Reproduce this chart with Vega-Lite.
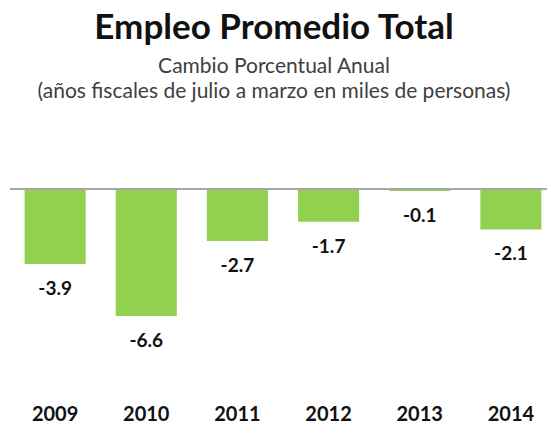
{
  "$schema": "https://vega.github.io/schema/vega-lite/v6.json",
  "autosize": {"type": "none"},
  "width": 546,
  "height": 206,
  "padding": {"left": 10, "top": 189, "right": 0, "bottom": 30},
  "background": "white",
  "title": {
    "text": "Empleo Promedio Total",
    "subtitle": ["Cambio Porcentual Anual", "(años fiscales de julio a marzo en miles de personas)"],
    "anchor": "middle",
    "frame": "group",
    "dx": -9,
    "offset": 86,
    "font": "Lato",
    "fontSize": 35,
    "fontWeight": "bold",
    "color": "#111111",
    "subtitleFont": "Lato",
    "subtitleFontSize": 21,
    "subtitleColor": "#404040",
    "subtitleLineHeight": 25,
    "subtitlePadding": 10
  },
  "data": {
    "values": [
      {"year": "2009", "value": -3.9},
      {"year": "2010", "value": -6.6},
      {"year": "2011", "value": -2.7},
      {"year": "2012", "value": -1.7},
      {"year": "2013", "value": -0.1},
      {"year": "2014", "value": -2.1}
    ]
  },
  "encoding": {
    "x": {
      "field": "year",
      "type": "nominal",
      "sort": null,
      "scale": {"paddingInner": 0.33, "paddingOuter": 0.16},
      "axis": {
        "title": null,
        "labelAngle": 0,
        "ticks": false,
        "domain": false,
        "labelFont": "Lato",
        "labelFontSize": 20,
        "labelFontWeight": "bold",
        "labelColor": "#111111",
        "labelPadding": 9
      }
    },
    "y": {
      "field": "value",
      "type": "quantitative",
      "scale": {"domain": [-10.7, 0], "nice": false, "zero": false},
      "axis": null
    }
  },
  "layer": [
    {"mark": {"type": "bar", "color": "#92D050"}},
    {
      "mark": {"type": "rule", "color": "#A6A6A6", "strokeWidth": 1.5},
      "encoding": {"y": {"datum": 0}, "x": {}}
    },
    {
      "mark": {"type": "text", "baseline": "middle", "dy": 25, "font": "Lato", "fontSize": 19, "fontWeight": "bold", "color": "#111111"},
      "encoding": {"text": {"field": "value", "type": "quantitative", "format": ".1f"}}
    }
  ],
  "config": {
    "view": {"stroke": null},
    "locale": {"number": {"decimal": ".", "thousands": ",", "grouping": [3], "currency": ["$", ""], "minus": "-"}}
  }
}
